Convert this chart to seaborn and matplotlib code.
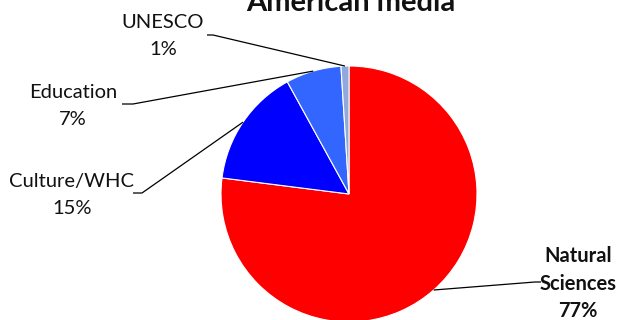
import matplotlib
matplotlib.use("Agg")
import matplotlib.pyplot as plt
import numpy as np
import seaborn as sns

# Share of coverage by topic
categories = ["Natural Sciences", "Culture/WHC", "Education", "UNESCO"]
shares = [77, 15, 7, 1]
colors = ["#FF0000", "#0000FF", "#3366FF", "#8EA9DB"]

sns.set_theme(style="white")
plt.rcParams["font.family"] = ["Lato", "DejaVu Sans"]

W, H = 622, 320
fig = plt.figure(figsize=(W / 100, H / 100), dpi=100)
ax = fig.add_axes([0, 0, 1, 1])

cx, cy, r = 349, H - 194, 128
wedges, _ = ax.pie(shares, colors=colors, startangle=90, counterclock=False,
                   center=(cx, cy), radius=r, frame=True,
                   wedgeprops=dict(edgecolor="white", linewidth=0.8))
ax.set_xlim(0, W)
ax.set_ylim(0, H)
ax.set_aspect("equal")
ax.axis("off")

# label block: text centre x, first-line centre y (px from top),
# elbow x, elbow y, end x of the horizontal stub, bold, font size
label_layout = {
    "UNESCO":           (163, 22, 213, 35, 207, False, 14.5),
    "Education":        (73, 92, 133, 104, 122, False, 14.5),
    "Culture/WHC":      (72, 181, 142, 193, 133, False, 14.5),
    "Natural Sciences": (578, 256, 535, 282, 541, True, 14.5),
}

for w, name, val in zip(wedges, categories, shares):
    tx, ty, ex, ey, endx, bold, fs = label_layout[name]
    mid = np.deg2rad((w.theta1 + w.theta2) / 2)
    px, py = cx + r * np.cos(mid), cy + r * np.sin(mid)
    ax.plot([px, ex, endx], [py, H - ey, H - ey], color="black", lw=0.9,
            solid_capstyle="butt")
    if name == "Natural Sciences":
        lines = ["Natural", "Sciences", f"{val}%"]
    else:
        lines = [name, f"{val}%"]
    for i, ln in enumerate(lines):
        ax.text(tx, H - (ty + 27.5 * i), ln, ha="center", va="center",
                fontsize=fs, fontweight="bold" if bold else "normal",
                color="#111111")

ax.text(351, H - 3, "American media", ha="center", va="center",
        fontsize=21, fontweight="bold", color="#111111")

fig.savefig("out.png", dpi=100)
